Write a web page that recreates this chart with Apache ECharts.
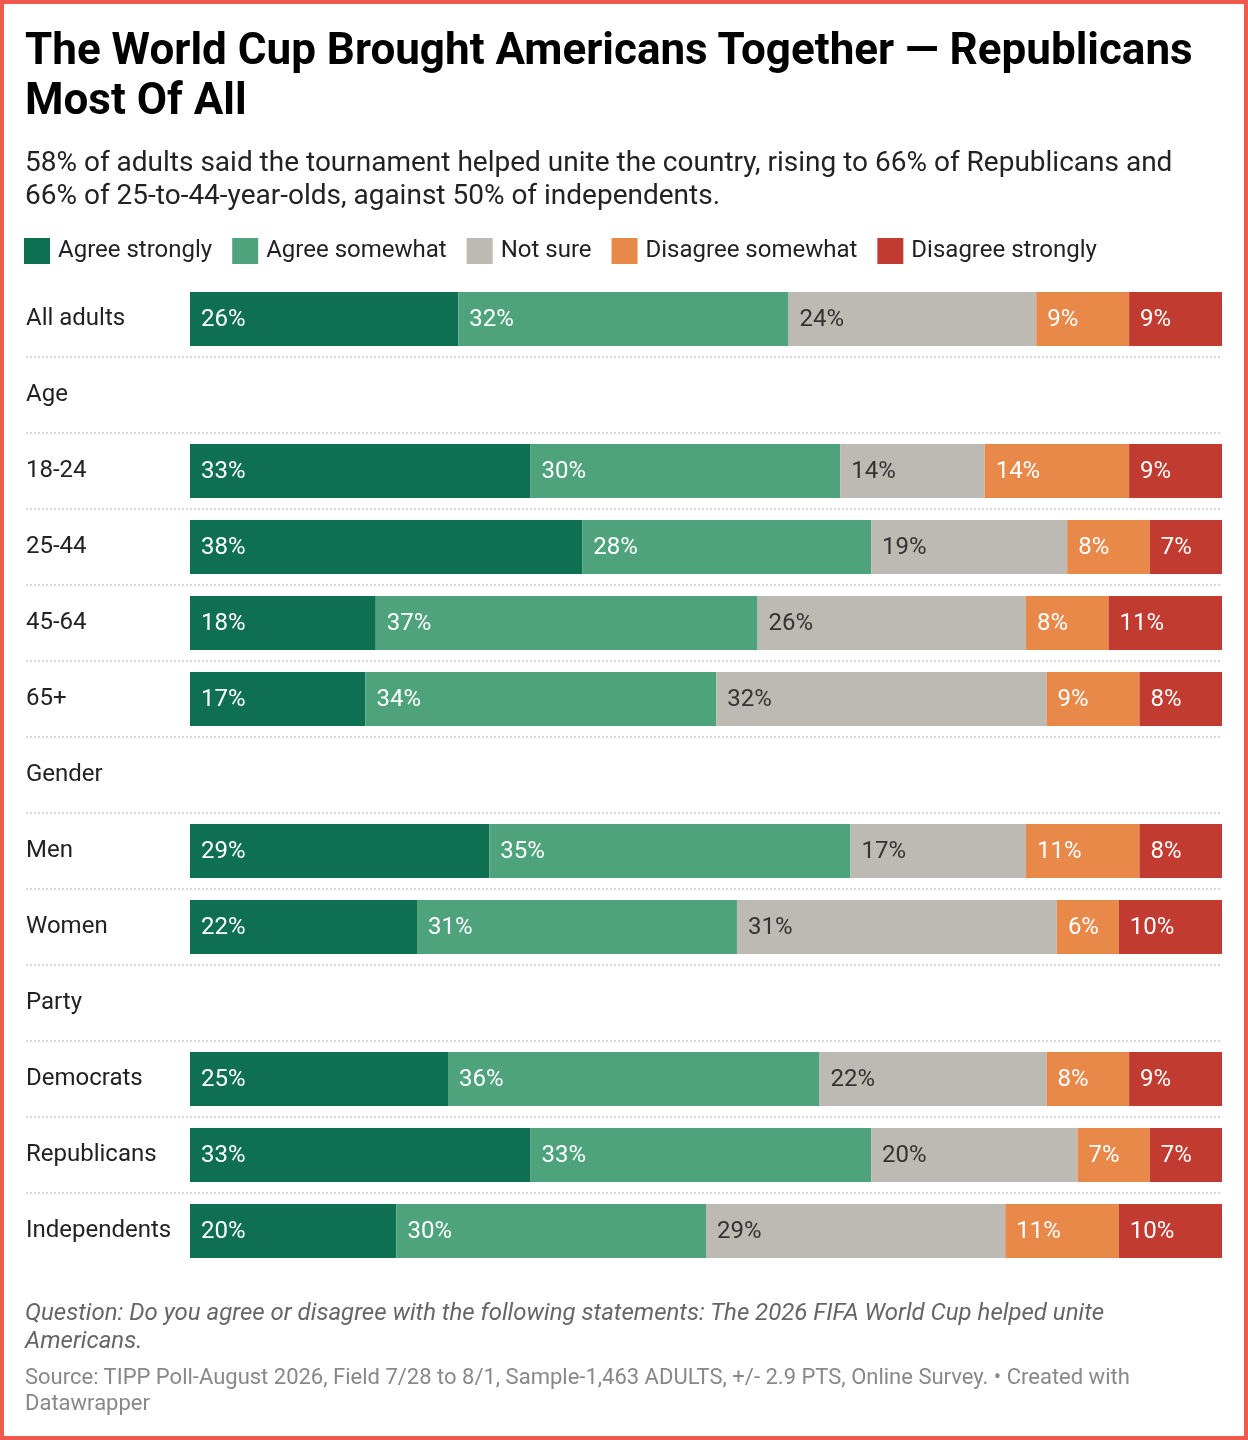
<!DOCTYPE html>
<html>
<head>
<meta charset="utf-8">
<script src="https://cdn.jsdelivr.net/npm/echarts@6/dist/echarts.min.js"></script>
<style>
  html, body { margin: 0; padding: 0; width: 1248px; height: 1440px; overflow: hidden; background: #fff; font-family: Roboto, "Noto Sans", sans-serif; }
  #chart { position: absolute; left: 0; top: 0; width: 1248px; height: 1440px; }
  #frame { position: absolute; left: 0; top: 0; width: 1248px; height: 1440px; box-sizing: border-box; border: 4px solid #ef5a4f; pointer-events: none; }
  .txt { position: absolute; left: 25px; margin: 0; white-space: nowrap; }
  #title { top: 24px; font-size: 44px; line-height: 50px; font-weight: 700; color: #000; }
  #subtitle { top: 145px; font-size: 28px; line-height: 33px; color: #222; }
  #question { top: 1298px; font-size: 24px; line-height: 28px; font-style: italic; color: #666; }
  #source { top: 1364px; font-size: 22px; line-height: 26px; color: #888; }
</style>
</head>
<body>
<div id="chart"></div>
<div class="txt" id="title">The World Cup Brought Americans Together — Republicans<br>Most Of All</div>
<div class="txt" id="subtitle">58% of adults said the tournament helped unite the country, rising to 66% of Republicans and<br>66% of 25-to-44-year-olds, against 50% of independents.</div>
<div class="txt" id="question">Question: Do you agree or disagree with the following statements: The 2026 FIFA World Cup helped unite<br>Americans.</div>
<div class="txt" id="source">Source: TIPP Poll-August 2026, Field 7/28 to 8/1, Sample-1,463 ADULTS, +/- 2.9 PTS, Online Survey. • Created with<br>Datawrapper</div>
<div id="frame"></div>
<script>
const categories = ['All adults', 'Age', '18-24', '25-44', '45-64', '65+', 'Gender', 'Men', 'Women', 'Party', 'Democrats', 'Republicans', 'Independents'];
const seriesNames = ['Agree strongly', 'Agree somewhat', 'Not sure', 'Disagree somewhat', 'Disagree strongly'];
const agreeStrongly    = [26, null, 33, 38, 18, 17, null, 29, 22, null, 25, 33, 20];
const agreeSomewhat    = [32, null, 30, 28, 37, 34, null, 35, 31, null, 36, 33, 30];
const notSure          = [24, null, 14, 19, 26, 32, null, 17, 31, null, 22, 20, 29];
const disagreeSomewhat = [9,  null, 14, 8,  8,  9,  null, 11, 6,  null, 8,  7,  11];
const disagreeStrongly = [9,  null, 9,  7,  11, 8,  null, 8,  10, null, 9,  7,  10];

const seriesData = [agreeStrongly, agreeSomewhat, notSure, disagreeSomewhat, disagreeStrongly];
const colors = ['#0e7050', '#4ea37d', '#bdbab3', '#e8894a', '#c23b31'];
const labelColors = ['#ffffff', '#ffffff', '#333333', '#ffffff', '#ffffff'];

const chart = echarts.init(document.getElementById('chart'), null, { renderer: 'canvas' });

const option = {
  animation: false,
  textStyle: { fontFamily: 'Roboto' },
  legend: {
    left: 24,
    top: 238,
    padding: 0,
    itemWidth: 26,
    itemHeight: 26,
    itemGap: 20,
    icon: 'rect',
    selectedMode: false,
    data: seriesNames,
    textStyle: { fontSize: 24, color: '#222', fontFamily: 'Roboto', padding: [2, 0, 0, 3] }
  },
  grid: [
    { left: 26, right: 26, top: 281, bottom: 171, containLabel: false },
    { left: 190, right: 26, top: 281, bottom: 171, containLabel: false }
  ],
  xAxis: [
    { gridIndex: 0, type: 'value', min: 0, max: 100, show: false },
    { gridIndex: 1, type: 'value', min: 0, max: 100, show: false }
  ],
  yAxis: [
    {
      gridIndex: 0, type: 'category', data: categories, inverse: true,
      axisLine: { show: false }, axisTick: { show: false },
      axisLabel: { inside: true, margin: 0, align: 'left', fontSize: 24, color: '#222', fontFamily: 'Roboto', padding: [2, 0, 0, 0] },
      splitLine: { show: true, showMinLine: false, showMaxLine: false, lineStyle: { color: '#d6d6d6', width: 2, type: [2, 2] } }
    },
    {
      gridIndex: 1, type: 'category', data: categories, inverse: true, show: false
    }
  ],
  series: seriesNames.map((name, i) => ({
    name: name,
    type: 'bar',
    stack: 'total',
    xAxisIndex: 1,
    yAxisIndex: 1,
    barWidth: 54,
    data: seriesData[i],
    itemStyle: { color: colors[i] },
    label: {
      show: true,
      position: 'insideLeft',
      distance: 11,
      offset: [0, 1],
      formatter: p => (p.value == null ? '' : p.value + '%'),
      fontSize: 24,
      color: labelColors[i],
      fontFamily: 'Roboto'
    }
  }))
};
chart.setOption(option);
</script>
</body>
</html>
